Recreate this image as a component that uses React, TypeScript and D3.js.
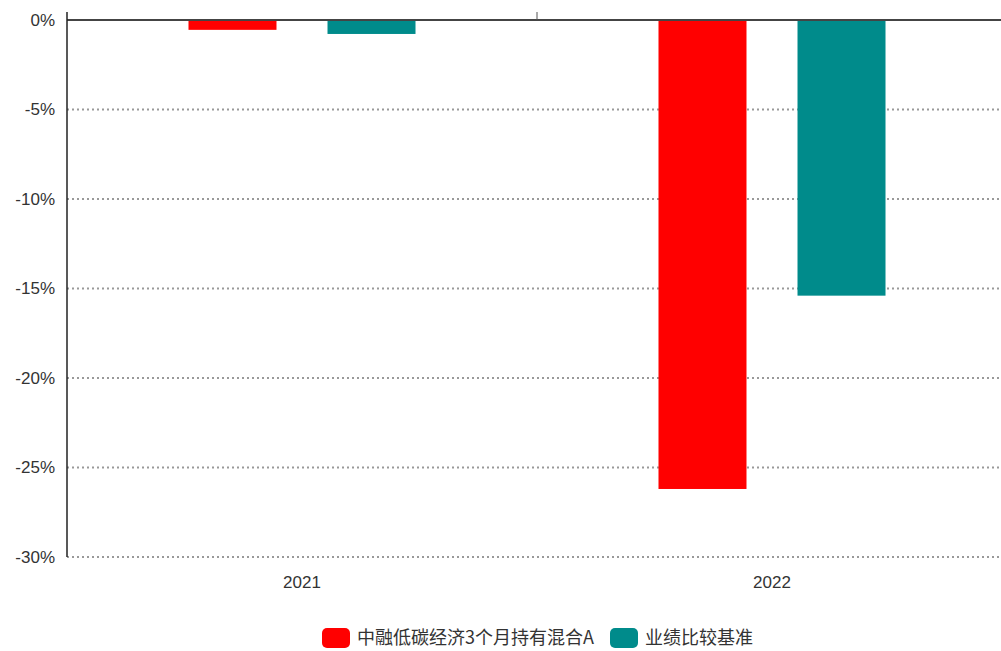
import React, { useEffect, useRef } from 'react';
import * as d3 from 'd3';

const years = ['2021', '2022'];
const seriesNames = ['中融低碳经济3个月持有混合A', '业绩比较基准'];
const fundValues = [-0.55, -26.2];
const benchValues = [-0.78, -15.4];
const yTicks = [0, -5, -10, -15, -20, -25, -30];
const colors = ['#ff0000', '#008b8b'];

const App: React.FC = () => {
  const ref = useRef<SVGSVGElement | null>(null);

  useEffect(() => {
    const svg = d3.select(ref.current);
    svg.selectAll('*').remove();
    const width = 1001;
    const height = 651;
    const margin = { top: 20, right: -6, bottom: 94, left: 67 };
    const font = '"Liberation Sans", Arial, sans-serif';

    const x = d3.scaleBand<string>()
      .domain(years)
      .range([margin.left, width - margin.right]);
    const x1 = d3.scaleBand<number>()
      .domain([0, 1])
      .range([0, x.bandwidth()])
      .paddingInner(0.367)
      .paddingOuter(0.874);
    const y = d3.scaleLinear()
      .domain([-30, 0])
      .range([height - margin.bottom, margin.top]);

    // grid
    svg.append('g')
      .selectAll('line')
      .data(yTicks.filter(d => d !== 0))
      .join('line')
      .attr('x1', margin.left)
      .attr('x2', width)
      .attr('y1', d => y(d))
      .attr('y2', d => y(d))
      .attr('stroke', '#999')
      .attr('stroke-width', 2)
      .attr('stroke-dasharray', '2,3');

    // y labels
    svg.append('g')
      .selectAll('text')
      .data(yTicks)
      .join('text')
      .attr('x', margin.left - 12)
      .attr('y', d => y(d))
      .attr('dy', '0.35em')
      .attr('text-anchor', 'end')
      .attr('font-family', font)
      .attr('font-size', 17)
      .attr('fill', '#333')
      .text(d => `${d}%`);

    // bars
    const rows = years.map((yr, i) => ({ yr, vals: [fundValues[i], benchValues[i]] }));
    svg.append('g')
      .selectAll('g')
      .data(rows)
      .join('g')
      .attr('transform', d => `translate(${x(d.yr)},0)`)
      .selectAll('rect')
      .data(d => d.vals.map((v, k) => ({ v, k })))
      .join('rect')
      .attr('x', d => x1(d.k) as number)
      .attr('width', x1.bandwidth())
      .attr('y', y(0))
      .attr('height', d => y(d.v) - y(0))
      .attr('fill', d => colors[d.k]);

    // zero line
    svg.append('line')
      .attr('x1', margin.left)
      .attr('x2', width)
      .attr('y1', y(0))
      .attr('y2', y(0))
      .attr('stroke', '#444')
      .attr('stroke-width', 2);

    // left axis line
    svg.append('line')
      .attr('x1', margin.left)
      .attr('x2', margin.left)
      .attr('y1', y(0) - 8)
      .attr('y2', y(-30))
      .attr('stroke', '#222')
      .attr('stroke-width', 1.5);

    // category divider tick
    svg.append('line')
      .attr('x1', x('2022') as number)
      .attr('x2', x('2022') as number)
      .attr('y1', y(0) - 8)
      .attr('y2', y(0))
      .attr('stroke', '#555')
      .attr('stroke-width', 1);

    // x labels
    svg.append('g')
      .selectAll('text')
      .data(years)
      .join('text')
      .attr('x', d => (x(d) as number) + x.bandwidth() / 2)
      .attr('y', y(-30) + 31)
      .attr('text-anchor', 'middle')
      .attr('font-family', font)
      .attr('font-size', 17)
      .attr('fill', '#333')
      .text(d => d);

    // legend
    const legendX = [322, 610];
    const lg = svg.append('g')
      .selectAll('g')
      .data(seriesNames)
      .join('g')
      .attr('transform', (_, i) => `translate(${legendX[i]},628)`);
    lg.append('rect')
      .attr('width', 28)
      .attr('height', 20)
      .attr('rx', 5)
      .attr('fill', (_, i) => colors[i]);
    lg.append('text')
      .attr('x', 35)
      .attr('y', 10)
      .attr('dy', '0.35em')
      .attr('font-family', '"Noto Sans CJK SC", sans-serif')
      .attr('font-size', 18)
      .attr('fill', '#333')
      .text(d => d);
  }, []);

  return (
    <svg
      ref={ref}
      width={1001}
      height={651}
      style={{ position: 'absolute', left: 0, top: 0, background: '#fff' }}
    />
  );
};

export default App;
